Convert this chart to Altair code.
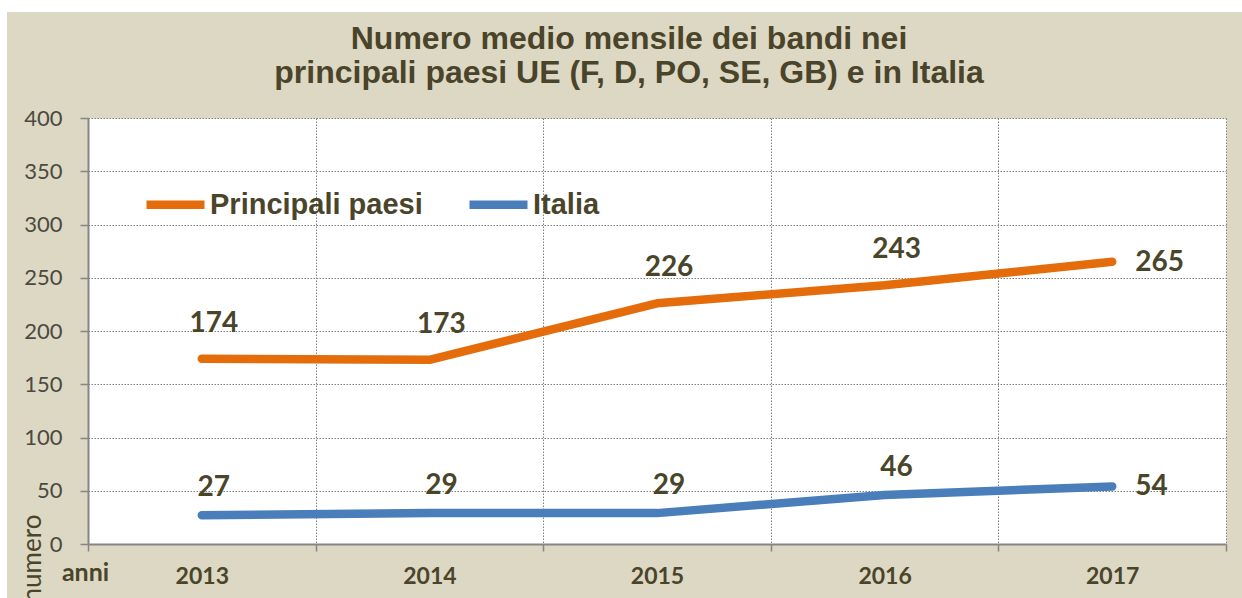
import altair as alt
import pandas as pd

years = ["2013", "2014", "2015", "2016", "2017"]
principali = [174, 173, 226, 243, 265]
italia = [27, 29, 29, 46, 54]
series_names = ["Principali paesi", "Italia"]
series_colors = ["#E46C0A", "#4A7EBB"]
title_lines = ["Numero medio mensile dei bandi nei",
               "principali paesi UE (F, D, PO, SE, GB) e in Italia"]
y_ticks = [0, 50, 100, 150, 200, 250, 300, 350, 400]

TXT = "#4A452A"
BEIGE = "#DDD8C3"
GRAY = "#868686"
GRID = "#808080"

df = pd.DataFrame({
    "anno": years * 2,
    "serie": [series_names[0]] * len(years) + [series_names[1]] * len(years),
    "valore": principali + italia,
})
one = pd.DataFrame({"k": [0]})

x_enc = alt.X(
    "anno:N",
    bandPosition=0.5,
    scale=alt.Scale(type="band", domain=years, paddingInner=0, paddingOuter=0),
    axis=alt.Axis(
        title="anni", titleX=-3, titleY=36, titleAlign="center", titleBaseline="alphabetic",
        titleFont="Lato", titleFontWeight="bold", titleFontSize=25, titleColor=TXT,
        labelFont="Lato", labelFontWeight="bold", labelFontSize=23, labelColor=TXT,
        labelAngle=0, labelPadding=14,
        tickBand="extent", tickSize=7, tickColor=GRAY, tickWidth=1.5,
        domainColor=GRAY, domainWidth=2,
        grid=True, gridColor=GRID, gridDash=[1.5, 1.5], gridWidth=1,
    ),
)
y_enc = alt.Y(
    "valore:Q",
    scale=alt.Scale(domain=[0, 400], nice=False),
    axis=alt.Axis(
        values=y_ticks, title="numero", titleAngle=270, titleX=-56, titleY=440,
        titleAlign="center", titleBaseline="middle",
        titleFont="Lato", titleFontWeight="normal", titleFontSize=26, titleColor=TXT,
        labelFont="Lato", labelFontSize=22, labelColor="#4A4A40", labelPadding=18,
        tickSize=8, tickColor=GRAY, tickWidth=1.5,
        domainColor=GRAY, domainWidth=2,
        grid=True, gridColor=GRID, gridDash=[1.5, 1.5], gridWidth=1,
    ),
)

base = alt.Chart(df)

lines = base.mark_line(strokeWidth=8.5, strokeCap="round", strokeJoin="round").encode(
    x=x_enc, y=y_enc,
    color=alt.Color(
        "serie:N",
        scale=alt.Scale(domain=series_names, range=series_colors),
        legend=alt.Legend(
            title=None, orient="none", legendX=54, legendY=53, direction="horizontal",
            symbolType="stroke", symbolStrokeWidth=8.5, symbolSize=3364,
            labelFont="Liberation Sans", labelFontWeight="bold", labelFontSize=29,
            labelColor=TXT, labelOffset=1, labelLimit=500, columnPadding=29,
        ),
    ),
)

lab_style = dict(font="Lato", fontWeight="bold", fontSize=28, color=TXT)

lab_p = base.mark_text(dx=12, dy=-27, baseline="alphabetic", **lab_style).encode(
    x=x_enc, y=y_enc, text="valore:Q"
).transform_filter(
    (alt.datum.anno != years[-1]) & (alt.datum.serie == series_names[0])
)
lab_i = base.mark_text(dx=12, dy=-19, baseline="alphabetic", **lab_style).encode(
    x=x_enc, y=y_enc, text="valore:Q"
).transform_filter(
    (alt.datum.anno != years[-1]) & (alt.datum.serie == series_names[1])
)
lab_end = base.mark_text(dx=23, dy=1, align="left", baseline="middle", **lab_style).encode(
    x=x_enc, y=y_enc, text="valore:Q"
).transform_filter(alt.datum.anno == years[-1])

# white page margin around the beige chart frame
m_top = alt.Chart(one).mark_rect(color="white").encode(
    x=alt.value(-88), x2=alt.value(1154), y=alt.value(-118), y2=alt.value(-106)
)
m_left = alt.Chart(one).mark_rect(color="white").encode(
    x=alt.value(-88), x2=alt.value(-81), y=alt.value(-118), y2=alt.value(480)
)

chart = alt.layer(m_top, m_left, lines, lab_p, lab_i, lab_end).properties(
    width=1138, height=426,
    padding={"left": 88, "top": 118, "right": 16, "bottom": 54},
    autosize=alt.AutoSizeParams(type="none"),
    background=BEIGE,
    title=alt.TitleParams(
        title_lines, anchor="middle", frame="group", dx=-28, offset=-90,
        font="Liberation Sans", fontWeight="bold", fontSize=32, color=TXT, lineHeight=34,
    ),
).configure_view(fill="white", stroke="transparent")

chart.save("out.html", embed_options={"renderer": "svg", "actions": False})
